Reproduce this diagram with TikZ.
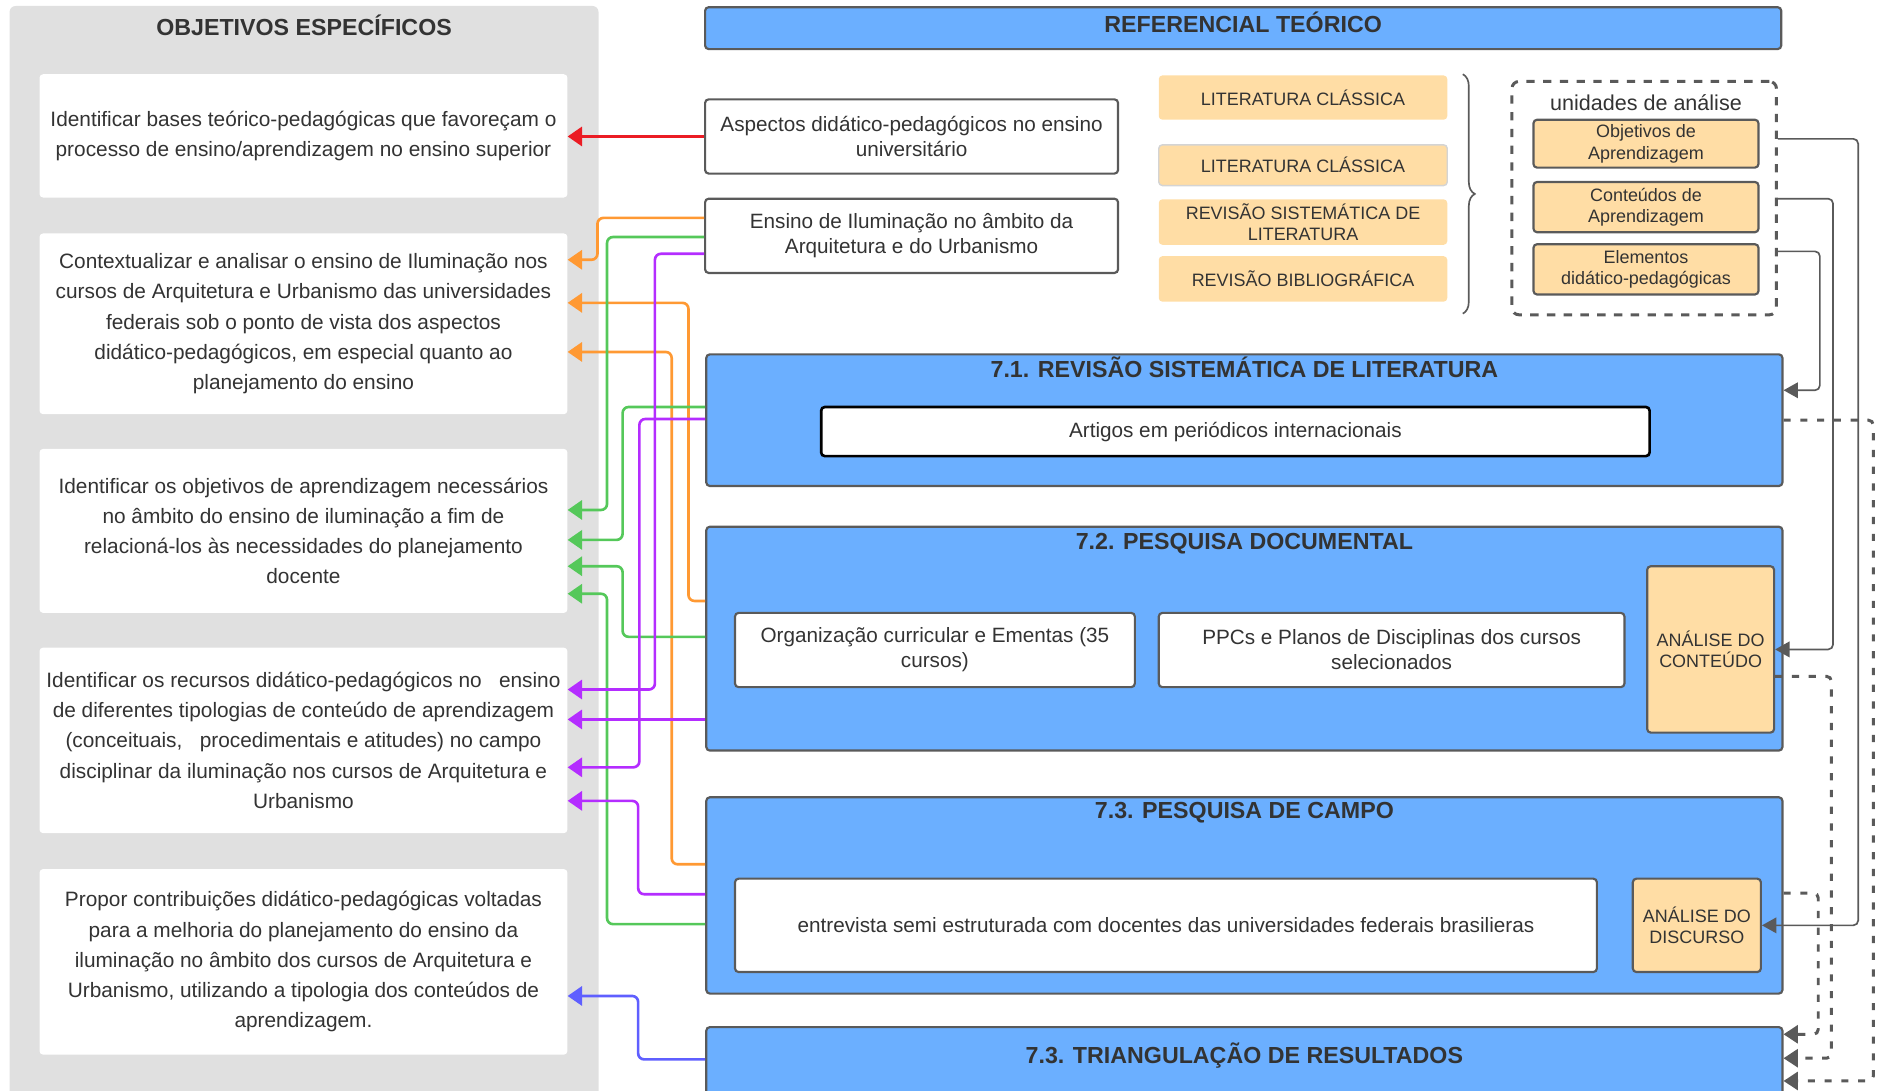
\documentclass[tikz,border=0pt]{standalone}
\usepackage{fontspec}
\setmainfont{Liberation Sans}
\usepackage{xcolor}
\usepackage{tikz}
\usetikzlibrary{arrows.meta}
\usetikzlibrary{positioning}
\usetikzlibrary{decorations.pathreplacing}

\definecolor{cinzapainel}{RGB}{224,224,224}
\definecolor{azulcaixa}{RGB}{107,175,255}
\definecolor{pessego}{RGB}{255,221,165}
\definecolor{borda}{RGB}{90,90,90}
\definecolor{cinzaclaro}{RGB}{212,212,212}
\definecolor{texto}{RGB}{51,51,51}
\definecolor{vermelho}{RGB}{235,28,36}
\definecolor{laranja}{RGB}{255,153,51}
\definecolor{verde}{RGB}{85,200,90}
\definecolor{roxo}{RGB}{180,45,255}
\definecolor{anil}{RGB}{95,95,255}

\newcommand{\fonteobj}{\fontsize{17.4}{25.3}\selectfont}
\newcommand{\fontecaixa}{\fontsize{17.3}{21}\selectfont}
\newcommand{\fontetit}{\fontsize{19.4}{23}\selectfont\bfseries}
\newcommand{\fontepeq}{\fontsize{15}{18}\selectfont}

\tikzset{>=latex}
\tikzset{
  painel/.style = {fill=cinzapainel, rounded corners=5pt},
  titulo/.style = {font=\fontetit, text=texto, inner sep=0pt},
  objbox/.style = {fill=white, rounded corners=3pt, minimum width=441pt, align=center, text=texto, font=\fonteobj},
  azulbox/.style = {fill=azulcaixa, draw=borda, line width=1.8pt, rounded corners=3pt},
  brancobox/.style = {fill=white, draw=borda, line width=1.8pt, rounded corners=3pt, align=center, text=texto, font=\fontecaixa},
  pessegobox/.style = {fill=pessego, rounded corners=3pt, minimum width=241pt, align=center, text=texto, font=\fontepeq},
  unidbox/.style = {fill=pessego, draw=borda, line width=1.8pt, rounded corners=3pt, minimum width=188pt, align=center, text=texto, font=\fontepeq},
  tracejadobox/.style = {draw=borda, line width=2.5pt, dash pattern=on 7pt off 7pt, rounded corners=6pt},
  chave/.style = {draw=borda, line width=1.4pt, decorate, decoration={brace, amplitude=10pt}},
  liga/.style = {line width=2.2pt, rounded corners=5pt, -{Triangle[length=12pt,width=16pt]}},
  cinzaliga/.style = {draw=borda, line width=1.4pt, rounded corners=4pt, -{Triangle[length=12pt,width=13pt]}},
  tracejada/.style = {draw=borda, line width=2.5pt, dash pattern=on 6pt off 8pt, rounded corners=4pt, -{Triangle[length=12pt,width=15pt]}}
}

\begin{document}
\begin{tikzpicture}[x=1pt, y=-1pt]
\useasboundingbox (0,0) rectangle (1568,911);

% objetivos especificos
\node [painel, minimum width=492pt, minimum height=920pt] (painel) at (254,465) {};
\node [titulo, anchor=base] (objtit) at ([yshift=-25pt]painel.north) {OBJETIVOS ESPECÍFICOS};
\node [objbox, minimum height=103pt] (ob1) at (253.5,113.5) {Identificar bases teórico-pedagógicas que favoreçam o\\processo de ensino/aprendizagem no ensino superior};
\node [objbox, minimum height=151pt] (ob2) at (253.5,270.5) {Contextualizar e analisar o ensino de Iluminação nos\\cursos de Arquitetura e Urbanismo das universidades\\federais sob o ponto de vista dos aspectos\\didático-pedagógicos, em especial quanto ao\\planejamento do ensino};
\node [objbox, minimum height=137pt] (ob3) at (253.5,443.5) {Identificar os objetivos de aprendizagem necessários\\no âmbito do ensino de iluminação a fim de\\relacioná-los às necessidades do planejamento\\docente};
\node [objbox, minimum height=155pt] (ob4) at (253.5,618.5) {Identificar os recursos didático-pedagógicos no \ \ ensino\\de diferentes tipologias de conteúdo de aprendizagem\\(conceituais, \ \ procedimentais e atitudes) no campo\\disciplinar da iluminação nos cursos de Arquitetura e\\Urbanismo};
\node [objbox, minimum height=155pt] (ob5) at (253.5,803.5) {Propor contribuições didático-pedagógicas voltadas\\para a melhoria do planejamento do ensino da\\iluminação no âmbito dos cursos de Arquitetura e\\Urbanismo, utilizando a tipologia dos conteúdos de\\aprendizagem.};

% referencial teorico
\node [azulbox, minimum width=899pt, minimum height=35pt] (ref) at (1038.5,23.5) {};
\node [titulo, anchor=base] (reftit) at ([yshift=-22pt]ref.north) {REFERENCIAL TEÓRICO};
\node [brancobox, minimum width=345pt, minimum height=62pt] (aspectos) at (761.5,114) {Aspectos didático-pedagógicos no ensino\\universitário};
\node [brancobox, minimum width=345pt, minimum height=62pt] (ensino) at (761.5,197) {Ensino de Iluminação no âmbito da\\Arquitetura e do Urbanismo};
\node [pessegobox, minimum height=37pt] (lit1) at (1088.5,81.5) {LITERATURA CLÁSSICA};
\node [pessegobox, draw=cinzaclaro, line width=1.2pt, minimum height=34pt] (lit2) at (1088.5,138) {LITERATURA CLÁSSICA};
\node [pessegobox, minimum height=37pt] (lit3) at (1088.5,185.5) {REVISÃO SISTEMÁTICA DE\\LITERATURA};
\node [pessegobox, minimum height=38pt] (lit4) at (1088.5,233) {REVISÃO BIBLIOGRÁFICA};
\draw [chave] (1222,62) -- (1222,262);

% unidades de analise
\node [tracejadobox, minimum width=221pt, minimum height=195pt] (unid) at (1373.5,165.5) {};
\node [text=texto, font=\fontsize{18}{22}\selectfont] (unidtit) at (1375,86) {unidades de análise};
\node [unidbox, minimum height=40pt] (u1) at (1375,120) {Objetivos de\\Aprendizagem};
\node [unidbox, minimum height=42pt] (u2) at (1375,173) {Conteúdos de\\Aprendizagem};
\node [unidbox, minimum height=42pt] (u3) at (1375,225) {Elementos\\didático-pedagógicas};

% etapas
\node [azulbox, minimum width=899pt, minimum height=110pt] (s71) at (1039.5,351) {};
\node [titulo, anchor=base] (s71tit) at ([yshift=-20pt]s71.north) {7.1. REVISÃO SISTEMÁTICA DE LITERATURA};
\node [brancobox, draw=black, line width=2.2pt, minimum width=692pt, minimum height=41pt] (artigos) at (1032,360.5) {Artigos em periódicos internacionais};

\node [azulbox, minimum width=899pt, minimum height=187pt] (s72) at (1039.5,533.5) {};
\node [titulo, anchor=base] (s72tit) at ([yshift=-20pt]s72.north) {7.2. PESQUISA DOCUMENTAL};
\node [brancobox, minimum width=334pt, minimum height=62pt] (org) at (781,543) {Organização curricular e Ementas (35\\cursos)};
\node [brancobox, minimum width=389pt, minimum height=62pt] (ppc) at (1162.5,543) {PPCs e Planos de Disciplinas dos cursos\\selecionados};
\node [unidbox, minimum width=106pt, minimum height=139pt] (analcont) at (1429,542.5) {ANÁLISE DO\\CONTEÚDO};

\node [azulbox, minimum width=899pt, minimum height=164pt] (s73) at (1039.5,748) {};
\node [titulo, anchor=base] (s73tit) at ([yshift=-19pt]s73.north) {7.3. PESQUISA DE CAMPO};
\node [brancobox, minimum width=720pt, minimum height=78pt] (entrevista) at (974,773) {entrevista semi estruturada com docentes das universidades federais brasilieras};
\node [unidbox, minimum width=107pt, minimum height=78pt] (analdisc) at (1417.5,773) {ANÁLISE DO\\DISCURSO};

\node [azulbox, minimum width=899pt, minimum height=77pt] (s74) at (1039.5,896.5) {};
\node [titulo, anchor=base] (s74tit) at ([yshift=-31pt]s74.north) {7.3. TRIANGULAÇÃO DE RESULTADOS};

% ligacoes com os objetivos
\draw [liga, vermelho] (aspectos.west) -- (aspectos.west -| ob1.east);
\draw [liga, laranja] ([yshift=15pt]ensino.west) -- ++(-89,0) |- ([yshift=53.5pt]ob2.east);
\draw [liga, laranja] ([yshift=31.5pt]s72.west) -- ++(-14,0) |- ([yshift=17.5pt]ob2.east);
\draw [liga, laranja] ([yshift=26pt]s73.west) -- ++(-28,0) |- ([yshift=-23.5pt]ob2.east);
\draw [liga, verde] ([yshift=-1pt]ensino.west) -- ++(-81,0) |- ([yshift=17.5pt]ob3.east);
\draw [liga, verde] ([yshift=11pt]s71.west) -- ++(-69,0) |- ([yshift=-7.5pt]ob3.east);
\draw [liga, verde] ([yshift=1.5pt]s72.west) -- ++(-69,0) |- ([yshift=-29.5pt]ob3.east);
\draw [liga, verde] ([yshift=-24pt]s73.west) -- ++(-82,0) |- ([yshift=-52.5pt]ob3.east);
\draw [liga, roxo] ([yshift=-15pt]ensino.west) -- ++(-41,0) |- ([yshift=42.5pt]ob4.east);
\draw [liga, roxo] ([yshift=-67.5pt]s72.west) -- ([yshift=17.5pt]ob4.east);
\draw [liga, roxo] ([yshift=1pt]s71.west) -- ++(-55,0) |- ([yshift=-22.5pt]ob4.east);
\draw [liga, roxo] ([yshift=1pt]s73.west) -- ++(-56,0) |- ([yshift=-50.5pt]ob4.east);
\draw [liga, anil] ([yshift=11.5pt]s74.west) -- ++(-56,0) |- ([yshift=-28.5pt]ob5.east);

% unidades de analise -> etapas
\draw [cinzaliga] ([yshift=4pt]unid.east |- u1.east) -- ++(67,0) |- (analdisc.east);
\draw [cinzaliga] ([yshift=7pt]unid.east |- u2.east) -- ++(46,0) |- (analcont.east);
\draw [cinzaliga] ([yshift=15pt]unid.east |- u3.east) -- ++(35,0) |- ([yshift=25pt]s71.east);
\draw [tracejada] (s71.east) -- ++(75,0) |- ([yshift=-6.5pt]s74.east);
\draw [tracejada] ([yshift=-22.5pt]analcont.east) -- ++(47,0) |- ([yshift=12.5pt]s74.east);
\draw [tracejada] ([yshift=2pt]s73.east) -- ++(29,0) |- ([yshift=32.5pt]s74.east);
\end{tikzpicture}
\end{document}
